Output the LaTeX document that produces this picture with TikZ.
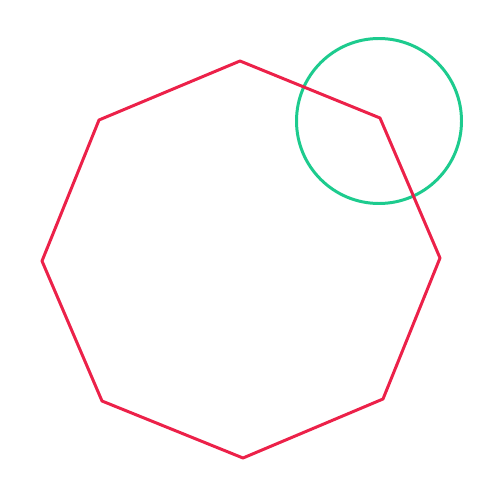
\documentclass[tikz,border=0pt]{standalone}
\definecolor{ringgreen}{HTML}{1DCB8E}
\definecolor{octred}{HTML}{EC2149}
\begin{document}
\begin{tikzpicture}[x=0.02cm, y=-0.02cm, line join=round]

  \useasboundingbox (0,0) rectangle (500,500);

  % Cirkel
  \coordinate (C) at (379,121);
  \draw[ringgreen, line width=1.7pt] (C) circle (82.5);

  % Achthoek
  \coordinate (A1) at (240,61);
  \coordinate (A2) at (380,118);
  \coordinate (A3) at (440,258);
  \coordinate (A4) at (383,399);
  \coordinate (A5) at (243,458);
  \coordinate (A6) at (102,401);
  \coordinate (A7) at (42,261);
  \coordinate (A8) at (99,120);
  \draw[octred, line width=1.7pt]
    (A1) -- (A2) -- (A3) -- (A4) -- (A5) -- (A6) -- (A7) -- (A8) -- cycle;

\end{tikzpicture}
\end{document}
